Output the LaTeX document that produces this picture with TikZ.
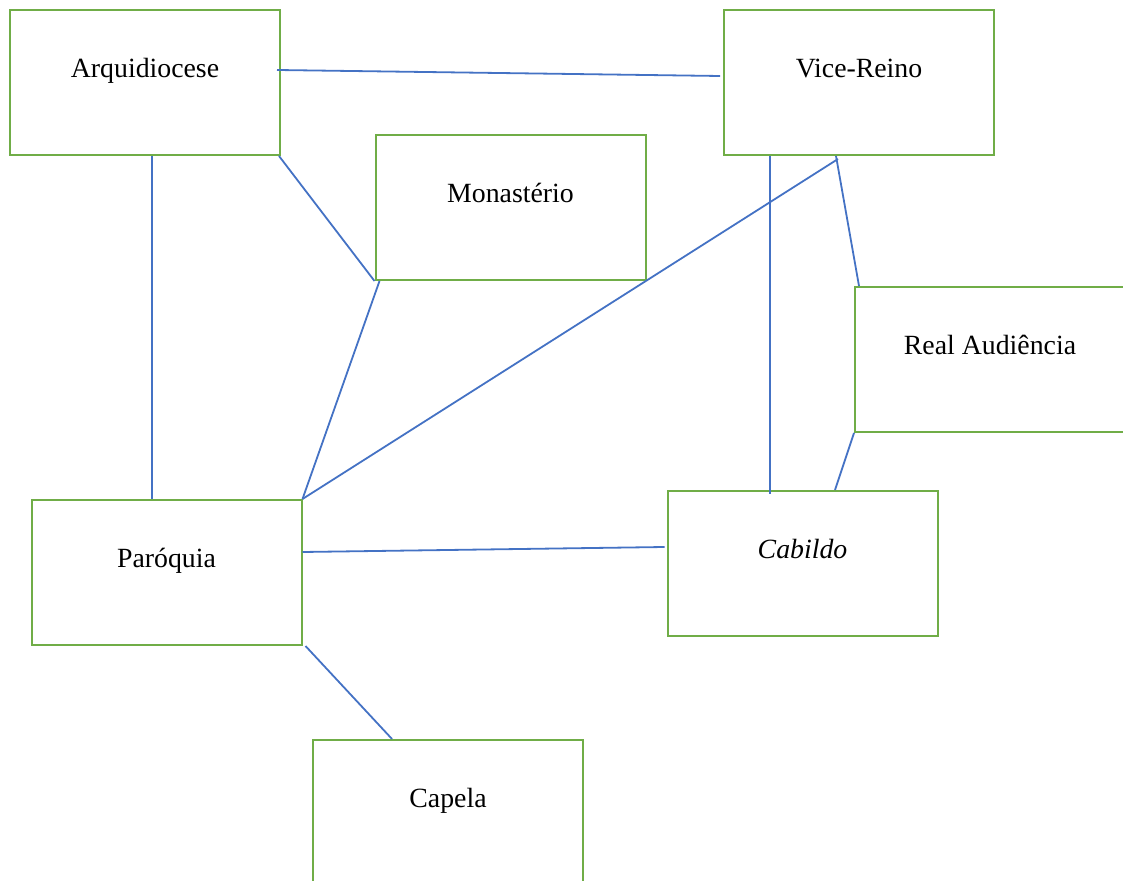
\documentclass[tikz,border=0pt]{standalone}
\usepackage{fontspec}
\setmainfont{Liberation Serif}
\usepackage{tikz}
\usetikzlibrary{positioning}
\definecolor{BoxGreen}{HTML}{70AD47}
\definecolor{LinkBlue}{HTML}{4472C4}
\tikzset{
  unit/.style={draw=BoxGreen,line width=1pt,fill=white,minimum width=135pt,minimum height=72.5pt,
    text height=10pt,text depth=15pt,font=\fontsize{13.9}{16}\selectfont,text=black},
  link/.style={draw=LinkBlue,line width=0.9pt}
}
\begin{document}
\begin{tikzpicture}[x=0.5pt,y=-0.5pt]
\useasboundingbox (0,0) rectangle (1123,881);
\clip (0,0) rectangle (1123,881);
\node[unit] (arq) at (145,82.5) {Arquidiocese};
\node[unit] (vice) at (859,82.5) {Vice-Reino};
\node[unit] (mon) at (510.5,207.5) {Monastério};
\node[unit] (real) at (990,359.5) {Real Audiência};
\node[unit] (par) at (166.5,572.5) {Paróquia};
\node[unit] (cab) at (802.5,563.5) {\itshape Cabildo};
\node[unit] (cap) at (448,812.5) {Capela};
% links
\draw[link] ([yshift=6.25pt,xshift=-2pt]arq.east) -- ([yshift=3.25pt,xshift=-1.5pt]vice.west);
\draw[link] ([xshift=3.5pt]arq.south) -- ([xshift=-7.25pt]par.north);
\draw[link] ([xshift=-1pt]arq.south east) -- (mon.south west);
\draw[link] ([xshift=2.5pt]mon.south west) -- (par.north east);
\draw[link] ([xshift=-10.5pt,yshift=-1.5pt]vice.south) -- (par.north east);
\draw[link] ([xshift=-44.5pt]vice.south) -- ([xshift=-16.25pt,yshift=-2pt]cab.north);
\draw[link] ([xshift=-11.5pt]vice.south) -- ([xshift=2.5pt]real.north west);
\draw[link] (real.south west) -- ([xshift=16.25pt]cab.north);
\draw[link] ([yshift=10.25pt]par.east) -- ([yshift=8.25pt,xshift=-1pt]cab.west);
\draw[link] ([xshift=1.5pt]par.south east) -- ([xshift=-28pt]cap.north);
\end{tikzpicture}
\end{document}
